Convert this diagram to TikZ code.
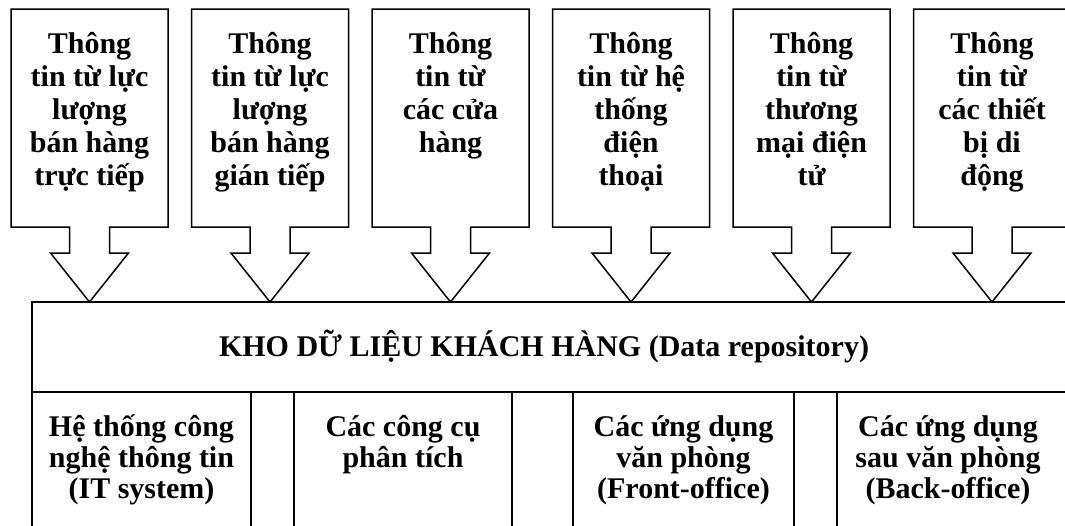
\documentclass[tikz,border=0pt]{standalone}
\usepackage{fontspec}
\setmainfont{Liberation Serif}
\begin{document}
\begin{tikzpicture}[x=1pt,y=-1pt,
  shp/.style={draw=black,line width=1.5pt,line join=miter,fill=white},
  toptxt/.style={anchor=base,inner sep=0pt,align=center,font=\bfseries\fontsize{30}{33}\selectfont},
  bottxt/.style={anchor=base,inner sep=0pt,align=center,font=\bfseries\fontsize{30}{31}\selectfont}]
\useasboundingbox (0,0) rectangle (1065,525);
% main repository block
\draw[shp] (32,560) -- (32,302) -- (1100,302);
\draw[shp] (32,392) -- (1100,392);
\foreach \vx in {251,294,512,573,794,837}{\draw[shp] (\vx,392) -- (\vx,560);}
% callout arrows
\foreach \c in {89.5,270,450.5,631,811.5,992}{
  \draw[shp] (\c-78.5,9) -- (\c+78.5,9) -- (\c+78.5,227) -- (\c+20,227) -- (\c+20,253)
    -- (\c+39,253) -- (\c,302) -- (\c-39,253) -- (\c-20,253) -- (\c-20,227)
    -- (\c-78.5,227) -- cycle;
}
% last-line baselines: line k at 53+33(k-1)
\node[toptxt] (t1) at (89.5,185) {Thông\\tin từ lực\\lượng\\bán hàng\\trực tiếp};
\node[toptxt] (t2) at (270,185) {Thông\\tin từ lực\\lượng\\bán hàng\\gián tiếp};
\node[toptxt] (t3) at (450.5,152) {Thông\\tin từ\\các cửa\\hàng};
\node[toptxt] (t4) at (631,185) {Thông\\tin từ hệ\\thống\\điện\\thoại};
\node[toptxt] (t5) at (811.5,185) {Thông\\tin từ\\thương\\mại điện\\tử};
\node[toptxt] (t6) at (992,185) {Thông\\tin từ\\các thiết\\bị di\\động};
\node[toptxt] (repo) at (544,356) {KHO DỮ LIỆU KHÁCH HÀNG (Data repository)};
\node[bottxt] (b1) at (141.5,498) {Hệ thống công\\nghệ thông tin\\(IT system)};
\node[bottxt] (b2) at (403,467) {Các công cụ\\phân tích};
\node[bottxt] (b3) at (683.5,498) {Các ứng dụng\\văn phòng\\(Front-office)};
\node[bottxt] (b4) at (948,498) {Các ứng dụng\\sau văn phòng\\(Back-office)};
\end{tikzpicture}
\end{document}
